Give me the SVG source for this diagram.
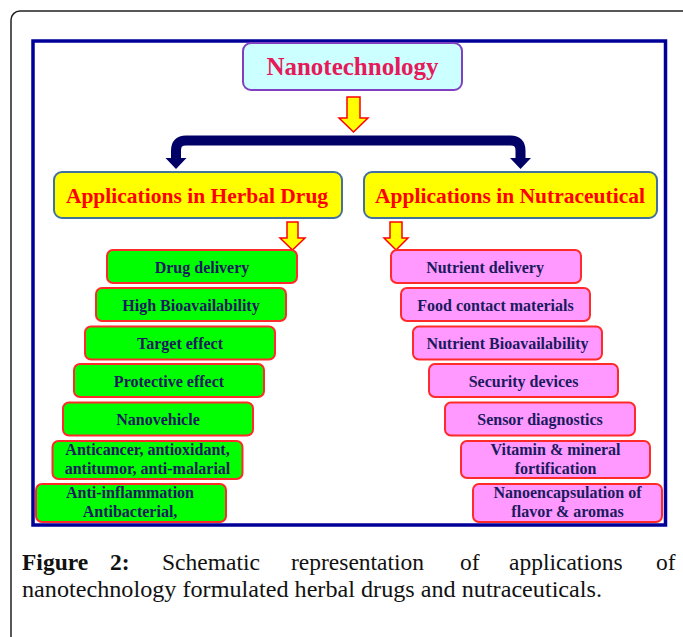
<svg xmlns="http://www.w3.org/2000/svg" width="683" height="637" viewBox="0 0 683 637">
<style>
.nt{font-family:"Liberation Serif","Times New Roman",serif;font-weight:bold;}
.root{fill:#CCFFFF;stroke:#7F3FBF;stroke-width:2;}
.rootT{fill:#E6195A;font-size:25px;}
.cat{fill:#FFFF00;stroke:#41719C;stroke-width:2;}
.catT{fill:#FF0000;font-size:21.5px;}
.g{fill:#00FF00;stroke:#FF2A2A;stroke-width:2;}
.p{fill:#FF99FF;stroke:#FF2A2A;stroke-width:2;}
.it{fill:#1A1A5E;font-size:16px;}
.ya{fill:#FFFF00;stroke:#FF0000;stroke-width:1.5;stroke-linejoin:miter;}
.cap{font-family:"Liberation Serif","Times New Roman",serif;font-size:23.5px;fill:#111;}
</style>
<rect x="11" y="11" width="700" height="660" rx="9" fill="#fff" stroke="#222" stroke-width="1.5"/>
<rect x="33" y="41" width="632.5" height="484" fill="#fff" stroke="#000099" stroke-width="3.5"/>

<g id="connectors">
<polygon class="ya" points="347,97 360,97 360,118 368,118 353.5,132 339,118 347,118"/>
<path d="M176,160 V150.5 Q176,140.5 186,140.5 H510.5 Q520.5,140.5 520.5,150.5 V160" fill="none" stroke="#000066" stroke-width="10"/>
<polygon points="165.5,158 186.5,158 176,169" fill="#000066"/>
<polygon points="510,158 531,158 520.5,169" fill="#000066"/>
<polygon class="ya" points="287,222 298,222 298,238 305,238 292.5,250 280,238 287,238"/>
<polygon class="ya" points="390,222 402,222 402,238 408,238 396,250 384,238 390,238"/>
</g>

<g id="nanotechnology">
<rect class="root" x="243" y="43" width="219" height="47" rx="8"/>
<text class="nt rootT" x="352.5" y="75" text-anchor="middle">Nanotechnology</text>
</g>

<g id="herbal">
<rect class="cat" x="54" y="172" width="288" height="46" rx="8"/>
<text class="nt catT" x="197" y="203" text-anchor="middle">Applications in Herbal Drug</text>
</g>
<g id="nutraceutical">
<rect class="cat" x="364" y="172" width="293" height="46" rx="8"/>
<text class="nt catT" x="510" y="203" text-anchor="middle">Applications in Nutraceutical</text>
</g>

<g id="h1"><rect class="g" x="107" y="250" width="190" height="33" rx="6"/><text class="nt it" x="202" y="273" text-anchor="middle">Drug delivery</text></g>
<g id="h2"><rect class="g" x="96" y="288" width="190" height="33" rx="6"/><text class="nt it" x="191" y="311" text-anchor="middle">High Bioavailability</text></g>
<g id="h3"><rect class="g" x="85" y="326.5" width="190" height="33" rx="6"/><text class="nt it" x="180" y="349" text-anchor="middle">Target effect</text></g>
<g id="h4"><rect class="g" x="74" y="364" width="190" height="33" rx="6"/><text class="nt it" x="169" y="387" text-anchor="middle">Protective effect</text></g>
<g id="h5"><rect class="g" x="63" y="402.5" width="190" height="33" rx="6"/><text class="nt it" x="158" y="425" text-anchor="middle">Nanovehicle</text></g>
<g id="h6"><rect class="g" x="52.5" y="441" width="190" height="38" rx="6"/><text class="nt it" x="147.5" y="455" text-anchor="middle">Anticancer, antioxidant,</text><text class="nt it" x="147.5" y="474" text-anchor="middle">antitumor, anti-malarial</text></g>
<g id="h7"><rect class="g" x="36" y="484" width="190" height="38" rx="6"/><text class="nt it" x="130" y="498" text-anchor="middle">Anti-inflammation</text><text class="nt it" x="130" y="517" text-anchor="middle">Antibacterial,</text></g>

<g id="n1"><rect class="p" x="391" y="250" width="190" height="33" rx="6"/><text class="nt it" x="485" y="273" text-anchor="middle">Nutrient delivery</text></g>
<g id="n2"><rect class="p" x="401" y="288" width="189" height="33" rx="6"/><text class="nt it" x="495.5" y="311" text-anchor="middle">Food contact materials</text></g>
<g id="n3"><rect class="p" x="413" y="326.5" width="189" height="33" rx="6"/><text class="nt it" x="507.5" y="349" text-anchor="middle">Nutrient Bioavailability</text></g>
<g id="n4"><rect class="p" x="429" y="364" width="189" height="33" rx="6"/><text class="nt it" x="523.5" y="387" text-anchor="middle">Security devices</text></g>
<g id="n5"><rect class="p" x="445" y="402.5" width="190" height="33" rx="6"/><text class="nt it" x="540" y="425" text-anchor="middle">Sensor diagnostics</text></g>
<g id="n6"><rect class="p" x="461" y="441" width="189" height="37" rx="6"/><text class="nt it" x="555.5" y="455" text-anchor="middle">Vitamin &amp; mineral</text><text class="nt it" x="555.5" y="474" text-anchor="middle">fortification</text></g>
<g id="n7"><rect class="p" x="473" y="484" width="189" height="38" rx="6"/><text class="nt it" x="567.5" y="498" text-anchor="middle">Nanoencapsulation of</text><text class="nt it" x="567.5" y="517" text-anchor="middle">flavor &amp; aromas</text></g>

<g id="caption">
<text class="cap" y="570"><tspan x="22" font-weight="bold">Figure</tspan><tspan x="110" font-weight="bold">2:</tspan><tspan x="162">Schematic</tspan><tspan x="291">representation</tspan><tspan x="460">of</tspan><tspan x="509">applications</tspan><tspan x="656">of</tspan></text>
<text class="cap" x="22" y="597" textLength="580" lengthAdjust="spacingAndGlyphs">nanotechnology formulated herbal drugs and nutraceuticals.</text>
</g>
</svg>
